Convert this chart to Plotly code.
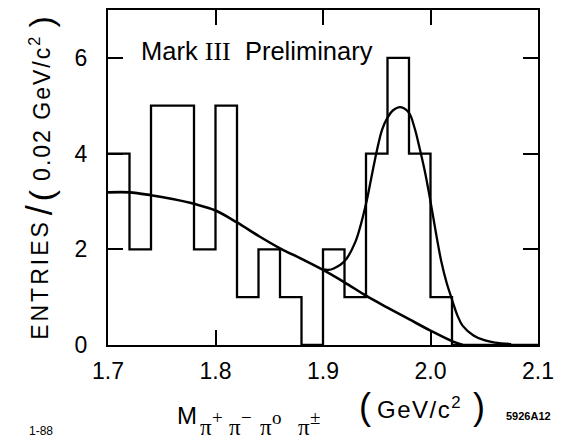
import plotly.graph_objects as go

# Binned invariant-mass spectrum, 0.02 GeV/c^2 per bin
bin_edges = [1.70, 1.72, 1.74, 1.76, 1.78, 1.80, 1.82, 1.84, 1.86, 1.88, 1.90,
             1.92, 1.94, 1.96, 1.98, 2.00, 2.02, 2.04, 2.06, 2.08, 2.10]
counts = [4, 2, 5, 5, 2, 5, 1, 2, 1, 0, 2, 1, 4, 6, 4, 1, 0, 0, 0, 0]

# Background fit curve
bg_mass = [1.70, 1.72, 1.74, 1.76, 1.78, 1.80, 1.82, 1.84, 1.86, 1.88, 1.90,
           1.92, 1.94, 1.96, 1.98, 2.00, 2.02, 2.03]
bg_fit = [3.19, 3.19, 3.13, 3.05, 2.95, 2.81, 2.56, 2.28, 2.02, 1.80, 1.57,
          1.31, 1.03, 0.78, 0.54, 0.30, 0.08, 0.0]

# Signal + background fit curve
sig_mass = [1.90, 1.905, 1.91, 1.92, 1.93, 1.94, 1.945, 1.95, 1.955, 1.96,
            1.965, 1.972, 1.98, 1.985, 1.99, 1.995, 2.00, 2.005, 2.01, 2.015,
            2.02, 2.025, 2.03, 2.04, 2.05, 2.06, 2.075]
sig_fit = [1.58, 1.57, 1.60, 1.75, 2.15, 2.95, 3.50, 4.05, 4.50, 4.75,
           4.90, 4.97, 4.85, 4.55, 4.10, 3.60, 3.00, 2.35, 1.75, 1.30,
           0.95, 0.62, 0.40, 0.20, 0.10, 0.05, 0.02]

x_ticks = [1.7, 1.8, 1.9, 2.0, 2.1]
x_tick_labels = ["1.7", "1.8", "1.9", "2.0", "2.1"]
y_ticks = [0, 2, 4, 6]

# pion charges in the subscript of the mass label
pion_charges = ["+", "−", "o", "±"]

W, H = 562, 441
L, R, T, B = 108, 21, 8, 96
PW, PH = W - L - R, H - T - B


def px(xp):
    return (xp - L) / PW


def py(yp):
    return (H - B - yp) / PH


fig = go.Figure()

fig.add_trace(go.Scatter(
    x=bin_edges, y=counts + [counts[-1]], mode="lines", line_shape="hv",
    line=dict(color="black", width=2.3), hoverinfo="skip", showlegend=False))
fig.add_trace(go.Scatter(
    x=bg_mass, y=bg_fit, mode="lines", line_shape="spline",
    line=dict(color="black", width=2.6), showlegend=False))
fig.add_trace(go.Scatter(
    x=sig_mass, y=sig_fit, mode="lines", line_shape="spline",
    line=dict(color="black", width=2.3), showlegend=False))

SANS = "Liberation Sans, Arial, sans-serif"
SERIF = "Liberation Serif, Times New Roman, serif"

axis_common = dict(
    showline=True, linecolor="black", linewidth=2, mirror="ticks",
    ticks="inside", ticklen=15, tickwidth=2, tickcolor="black",
    showgrid=False, zeroline=False,
    tickfont=dict(family=SANS, size=23, color="black"),
)

fig.update_xaxes(range=[1.7, 2.1], tickvals=x_ticks, ticktext=x_tick_labels,
                 ticklabelstandoff=4, **axis_common)
fig.update_yaxes(range=[0, 7], tickvals=y_ticks, ticklabelstandoff=14, **axis_common)


def note(xp, yp, text, size, family=SANS, xanchor="center", yanchor="middle", angle=0):
    return dict(x=px(xp), y=py(yp), xref="paper", yref="paper", showarrow=False,
                xanchor=xanchor, yanchor=yanchor, textangle=angle, text=text,
                font=dict(family=family, size=size, color="black"))


annotations = [
    # experiment label inside the frame
    note(139, 50, 'Mark\u00a0<span style="font-family:Liberation Serif;font-size:26px">III</span>'
                  '\u00a0\u00a0Preliminary', 25.5, xanchor="left"),

    # vertical axis title, pieces stacked bottom to top
    note(40, 279, '<span style="letter-spacing:3px">ENTRIES</span>', 23, angle=-90),
    note(39, 209, "/", 36, angle=-90),
    note(40, 194, "(", 34, angle=-90),
    note(40, 107, '<span style="letter-spacing:2px">0.02 GeV/c</span><sup>2</sup>', 23,
         angle=-90),
    note(40, 20, ")", 34, angle=-90),

    # horizontal axis title
    note(175, 416, "M", 24, xanchor="left"),
    note(367, 407, "(", 36),
    note(377, 408, '<span style="letter-spacing:1.5px">GeV/c</span><sup>2</sup>', 24,
         xanchor="left"),
    note(482, 407, ")", 36),

    # figure codes
    note(41, 432, "1-88", 12),
    note(531, 416, "<b>5926A12</b>", 11,
         family="Liberation Sans Narrow, Arial Narrow, sans-serif"),
]

# subscript pions: π with its charge raised beside it
for xp, q in zip([199, 228, 259, 297], pion_charges):
    annotations.append(note(xp, 428, "π", 23, family=SERIF, xanchor="left"))
    annotations.append(note(xp + 12, 418, q, 19, family=SERIF, xanchor="left"))

fig.update_layout(
    width=W, height=H,
    margin=dict(l=L, r=R, t=T, b=B, pad=0),
    paper_bgcolor="white", plot_bgcolor="white",
    font=dict(family=SANS, color="black"),
    annotations=annotations,
)

fig.write_html("out.html")
